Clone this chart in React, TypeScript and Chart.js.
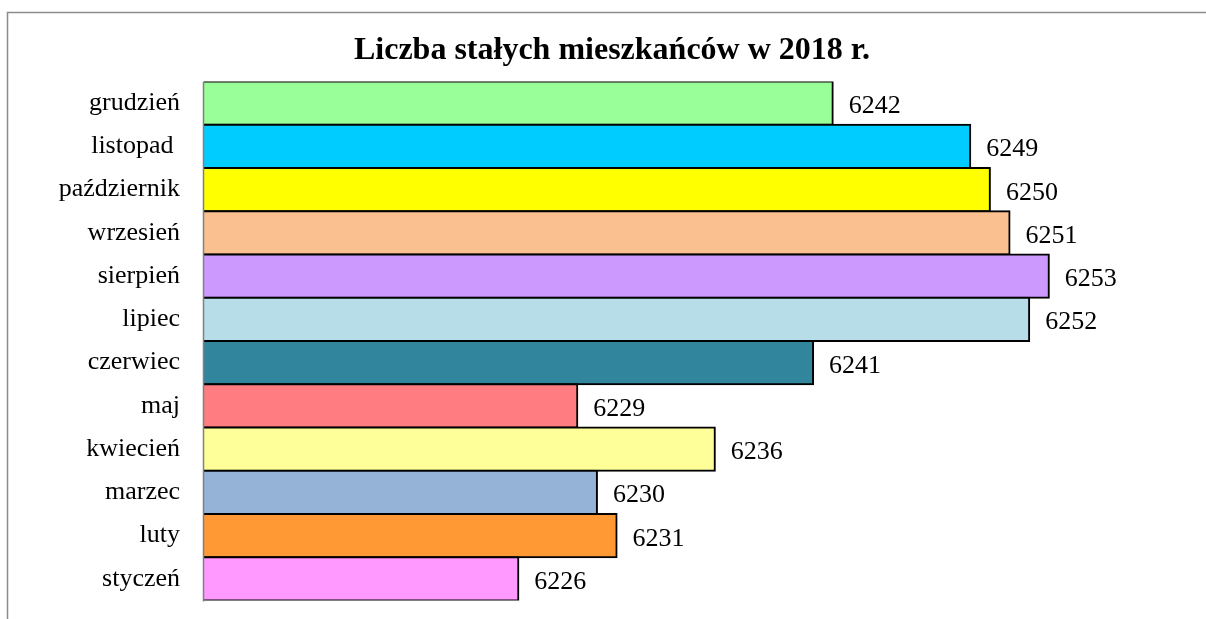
import React, { useEffect, useRef } from "react";
import { Chart, registerables } from "chart.js";

Chart.register(...registerables);

const categories = [
  "grudzień",
  "listopad ",
  "październik",
  "wrzesień",
  "sierpień",
  "lipiec",
  "czerwiec",
  "maj",
  "kwiecień",
  "marzec",
  "luty",
  "styczeń",
];

const residents = [6242, 6249, 6250, 6251, 6253, 6252, 6241, 6229, 6236, 6230, 6231, 6226];

const barColors = [
  "#99FF99",
  "#00CCFF",
  "#FFFF00",
  "#FAC090",
  "#CC99FF",
  "#B7DEE8",
  "#31859C",
  "#FF7C80",
  "#FFFF99",
  "#95B3D7",
  "#FF9933",
  "#FF99FF",
];

const titleText = "Liczba stałych mieszkańców w 2018 r.";
const FONT = "'Liberation Serif', 'Times New Roman', serif";

const valueLabels = {
  id: "valueLabels",
  afterDatasetsDraw(chart: any) {
    const ctx = chart.ctx;
    const meta = chart.getDatasetMeta(0);
    ctx.save();
    ctx.font = `26px ${FONT}`;
    ctx.fillStyle = "#000";
    ctx.textAlign = "left";
    ctx.textBaseline = "alphabetic";
    meta.data.forEach((el: any, i: number) => {
      const v = chart.data.datasets[0].data[i];
      ctx.fillText(String(v), el.x + 16, el.y + 10);
    });
    ctx.restore();
  },
};

const framePlugin = {
  id: "frame",
  afterDraw(chart: any) {
    const ctx = chart.ctx;
    const area = chart.chartArea;
    ctx.save();
    ctx.strokeStyle = "#8C8C8C";
    ctx.lineWidth = 1.5;
    ctx.beginPath();
    ctx.moveTo(7.5, chart.height);
    ctx.lineTo(7.5, 12.5);
    ctx.lineTo(chart.width, 12.5);
    ctx.stroke();
    ctx.strokeStyle = "#808080";
    ctx.lineWidth = 1.5;
    ctx.beginPath();
    ctx.moveTo(area.left - 0.5, area.top);
    ctx.lineTo(area.left - 0.5, area.bottom + 1);
    ctx.stroke();
    ctx.restore();
  },
};

export default function App() {
  const canvasRef = useRef<HTMLCanvasElement | null>(null);

  useEffect(() => {
    if (!canvasRef.current) return;
    const chart = new Chart(canvasRef.current, {
      type: "bar",
      data: {
        labels: categories,
        datasets: [
          {
            data: residents,
            backgroundColor: barColors,
            borderColor: "#000000",
            borderWidth: 2,
            inflateAmount: 1,
            categoryPercentage: 1,
            barPercentage: 1,
          } as any,
        ],
      },
      options: {
        indexAxis: "y",
        animation: false,
        responsive: false,
        layout: { padding: { left: 18, right: 0, top: 12, bottom: 18.5 } },
        plugins: {
          legend: { display: false },
          tooltip: { enabled: false },
          title: {
            display: true,
            text: titleText,
            color: "#000",
            font: { family: FONT, size: 32, weight: "bold", lineHeight: 1.2 },
            padding: { top: 20, bottom: 11 },
          },
        },
        scales: {
          x: {
            display: false,
            min: 6210,
            max: 6261,
          },
          y: {
            afterFit(scale: any) {
              scale.width = 186;
              scale.paddingTop = 0;
              scale.paddingBottom = 0;
            },
            grid: { display: false, drawTicks: false },
            border: { display: false },
            ticks: {
              color: "#000",
              padding: 24,
              font: { family: FONT, size: 26 },
            },
          },
        },
      },
      plugins: [valueLabels, framePlugin],
    });
    return () => chart.destroy();
  }, []);

  return (
    <div style={{ position: "absolute", left: 0, top: 0, width: 1206, height: 619, background: "#fff" }}>
      <canvas ref={canvasRef} width={1206} height={619} style={{ width: 1206, height: 619, display: "block" }} />
    </div>
  );
}
